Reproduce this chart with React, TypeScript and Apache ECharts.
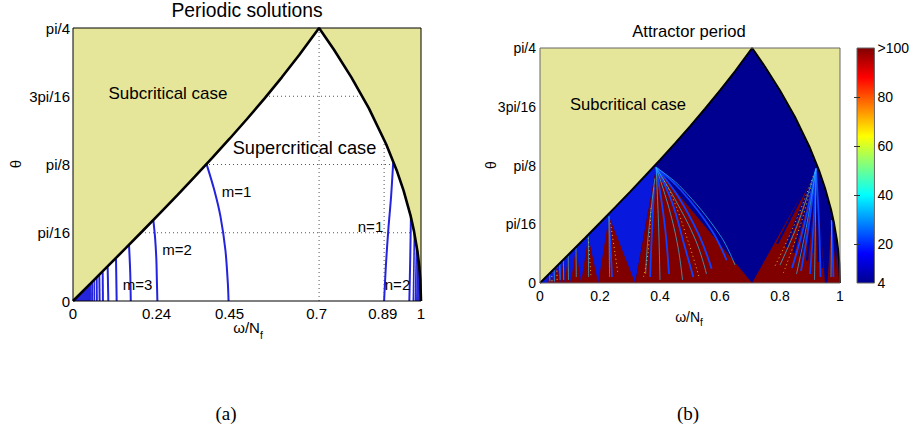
import React, { useEffect, useRef } from 'react';
import * as echarts from 'echarts';

const PI = Math.PI;
const FONT = '"Liberation Sans", Arial, Helvetica, sans-serif';
const SERIF = '"Liberation Serif", "DejaVu Serif", serif';

// ---- tick values / labels ----
const Y_TICK_VALUES = [0, PI / 16, PI / 8, (3 * PI) / 16, PI / 4];
const Y_TICK_LABELS = ['0', 'pi/16', 'pi/8', '3pi/16', 'pi/4'];
const LEFT_X_TICKS = [0, 0.24, 0.45, 0.7, 0.89, 1];
const CB_TICKS = [4, 20, 40, 60, 80, 100];
const CB_LABELS = ['4', '20', '40', '60', '80', '>100'];

// ---- critical boundary ----
const LEFT_BRANCH_X = [0, 0.05, 0.1, 0.15, 0.2, 0.25, 0.3, 0.35, 0.4, 0.45, 0.5, 0.55, 0.6, 0.65, 0.7071];
const LEFT_BRANCH_Y = [0, 0.05, 0.1002, 0.1506, 0.2014, 0.2527, 0.3047, 0.3576, 0.4115, 0.4668, 0.5236, 0.5824, 0.6435, 0.7076, 0.7854];
const RIGHT_BRANCH_X = [0.7071, 0.75, 0.8, 0.85, 0.9, 0.93, 0.95, 0.97, 0.98, 0.99, 0.995, 0.998, 1];
const RIGHT_BRANCH_Y = [0.7854, 0.7227, 0.6435, 0.5548, 0.451, 0.3764, 0.3176, 0.2456, 0.2003, 0.1415, 0.1001, 0.0633, 0];

// ---- dotted grid of panel (a) ----
const GRID_H = [PI / 16, PI / 8, (3 * PI) / 16];
const GRID_V = [0.7071, 0.894];

// ---- periodic-solution curves of panel (a) ----
const CURVE_M1 = [[0.384, 0.393], [0.406, 0.319], [0.424, 0.242], [0.438, 0.146], [0.445, 0.05], [0.447, 0]];
const CURVE_M2 = [[0.231, 0.231], [0.236, 0.18], [0.2395, 0.12], [0.241, 0.06], [0.2425, 0]];
const CURVE_M3 = [[0.161, 0.161], [0.1645, 0.08], [0.166, 0]];
const CURVE_N1 = [[0.92, 0.397], [0.914, 0.3], [0.906, 0.204], [0.899, 0.1], [0.894, 0]];
const CURVE_N2 = [[0.971, 0.238], [0.969, 0.12], [0.9665, 0]];
const MINOR_M_TOP_X = [0.1236, 0.0996, 0.0853, 0.0756, 0.068, 0.061, 0.056, 0.052, 0.048, 0.044, 0.041, 0.038, 0.035, 0.032, 0.029, 0.026, 0.023, 0.02, 0.017, 0.014, 0.011, 0.008, 0.005];
const MINOR_M_TOP_Y = [0.121, 0.097, 0.083, 0.074, 0.067, 0.06, 0.055, 0.051, 0.047, 0.043, 0.04, 0.037, 0.034, 0.031, 0.028, 0.025, 0.022, 0.019, 0.016, 0.013, 0.01, 0.007, 0.004];
const MINOR_M_BOT_X = [0.1255, 0.1015, 0.086, 0.0765, 0.0685, 0.0615, 0.0565, 0.0523, 0.0483, 0.0442, 0.0412, 0.0382, 0.0351, 0.0321, 0.0291, 0.0261, 0.0231, 0.0201, 0.0171, 0.0141, 0.0111, 0.0081, 0.0051];
const DENSE_M_REGION = [[0, 0], [0.052, 0.051], [0.0523, 0]];
const MINOR_N_TOP_X = [0.981, 0.987, 0.991, 0.994, 0.9965, 0.998];
const MINOR_N_TOP_Y = [0.195, 0.161, 0.134, 0.11, 0.084, 0.063];
const MINOR_N_BOT_X = [0.978, 0.984, 0.988, 0.991, 0.994, 0.996];

// ---- attractor period map of panel (b) ----
const MID_BLUE_REGION = [[0, 0], [0.1, 0.1002], [0.2, 0.2014], [0.3, 0.3047], [0.35, 0.3576], [0.387, 0.3974], [0.387, 0.386], [0.317, 0]];
const TRI_FOOT_L = [0.317, 0.194, 0.137, 0.102, 0.082, 0.068, 0.057, 0.048, 0.04, 0.033, 0.027, 0.707, 0.958, 0.985];
const TRI_APEX_X = [0.387, 0.23, 0.161, 0.12, 0.094, 0.078, 0.066, 0.056, 0.047, 0.039, 0.032, 0.92, 0.972, 0.99];
const TRI_APEX_Y = [0.386, 0.223, 0.156, 0.117, 0.092, 0.076, 0.064, 0.054, 0.045, 0.037, 0.03, 0.382, 0.21, 0.12];
const TRI_FOOT_R = [0.707, 0.317, 0.194, 0.137, 0.102, 0.082, 0.068, 0.057, 0.048, 0.04, 0.033, 0.95, 0.99, 0.998];

const STREAKS_DARK = [
  [[0.92, 0.382], [0.79, 0.13]],
  [[0.92, 0.382], [0.82, 0.12]],
  [[0.92, 0.382], [0.845, 0.1]],
  [[0.92, 0.382], [0.868, 0.09]],
  [[0.92, 0.382], [0.89, 0.075]],
  [[0.92, 0.382], [0.907, 0.1]],
  [[0.92, 0.382], [0.928, 0.07]],
  [[0.92, 0.382], [0.941, 0.05]],
];
const STREAKS_BRIGHT = [
  [[0.387, 0.386], [0.44, 0.27], [0.48, 0.13], [0.511, 0.02]],
  [[0.387, 0.386], [0.46, 0.29], [0.53, 0.16], [0.572, 0.048]],
  [[0.387, 0.386], [0.47, 0.31], [0.57, 0.18], [0.622, 0.076]],
  [[0.387, 0.386], [0.415, 0.2], [0.43, 0.03]],
  [[0.38, 0.32], [0.37, 0.1], [0.367, 0.02]],
  [[0.92, 0.382], [0.93, 0.2], [0.935, 0.02]],
  [[0.92, 0.382], [0.912, 0.2], [0.9, 0.03]],
  [[0.92, 0.382], [0.897, 0.2], [0.87, 0.04]],
  [[0.92, 0.382], [0.882, 0.2], [0.84, 0.05]],
  [[0.972, 0.21], [0.978, 0.02]],
  [[0.23, 0.223], [0.236, 0.1], [0.24, 0.02]],
];
const STREAKS_CYAN = [
  [[0.387, 0.386], [0.43, 0.25], [0.46, 0.12], [0.475, 0.01]],
  [[0.387, 0.386], [0.47, 0.32], [0.6, 0.16], [0.65, 0.06]],
  [[0.387, 0.386], [0.395, 0.2], [0.4, 0.01]],
  [[0.387, 0.386], [0.45, 0.28], [0.52, 0.14], [0.555, 0.03]],
  [[0.383, 0.35], [0.36, 0.15], [0.352, 0.03]],
  [[0.92, 0.382], [0.918, 0.2], [0.915, 0.01]],
  [[0.92, 0.382], [0.89, 0.2], [0.855, 0.03]],
  [[0.92, 0.382], [0.86, 0.2], [0.8, 0.06]],
  [[0.972, 0.21], [0.97, 0.02]],
  [[0.23, 0.223], [0.231, 0.1], [0.232, 0.02]],
  [[0.161, 0.156], [0.162, 0.02]],
  [[0.12, 0.117], [0.121, 0.02]],
  [[0.094, 0.092], [0.095, 0.01]],
  [[0.078, 0.076], [0.079, 0.01]],
  [[0.066, 0.064], [0.067, 0.01]],
  [[0.047, 0.045], [0.048, 0.005]],
  [[0.032, 0.03], [0.033, 0.005]],
];
const STREAKS_YELLOW = [
  [[0.387, 0.386], [0.44, 0.29], [0.5, 0.12], [0.53, 0.02]],
  [[0.37, 0.25], [0.36, 0.1], [0.345, 0.02]],
  [[0.92, 0.382], [0.87, 0.2], [0.81, 0.03]],
  [[0.92, 0.382], [0.85, 0.2], [0.78, 0.05]],
  [[0.235, 0.2], [0.25, 0.1], [0.26, 0.03]],
  [[0.161, 0.15], [0.17, 0.02]],
  [[0.056, 0.054], [0.057, 0.005]],
  [[0.039, 0.037], [0.04, 0.005]],
];

const JET = [
  [0, '#00008f'], [0.125, '#0000ff'], [0.375, '#00ffff'], [0.625, '#ffff00'], [0.875, '#ff0000'], [1, '#800000'],
];

const YELLOW = '#e6e69b';
const NAVY = '#000090';
const MID_BLUE = '#0818dc';
const DARK_RED = '#800000';
const LINE_BLUE = '#2424dc';

const zip = (xs: number[], ys: number[]) => xs.map((x, i) => [x, ys[i]]);

function polySeries(g: number, polys: number[][][], color: string, z: number) {
  return {
    type: 'custom',
    xAxisIndex: g,
    yAxisIndex: g,
    z,
    silent: true,
    clip: true,
    data: polys.map(() => [0.5, 0.3]),
    renderItem: (params: any, api: any) => ({
      type: 'polygon',
      shape: { points: polys[params.dataIndex].map((p) => api.coord(p)) },
      style: { fill: color },
    }),
  };
}

function lineSeries(g: number, pts: number[][], color: string, width: number, z: number, extra: any = {}) {
  return {
    type: 'line',
    xAxisIndex: g,
    yAxisIndex: g,
    data: pts,
    symbol: 'none',
    silent: true,
    z,
    lineStyle: { color, width, type: extra.type || 'solid', cap: 'butt', opacity: extra.opacity ?? 1 },
    smooth: extra.smooth || false,
    clip: extra.clip === undefined ? true : extra.clip,
    animation: false,
  };
}

const yLabelFmt = (v: number) => {
  let best = 0;
  Y_TICK_VALUES.forEach((t, i) => {
    if (Math.abs(t - v) < Math.abs(Y_TICK_VALUES[best] - v)) best = i;
  });
  return Y_TICK_LABELS[best];
};

function text(x: number, y: number, t: string, size: number, extra: any = {}) {
  return {
    type: 'text',
    x,
    y,
    z: 100,
    silent: true,
    rotation: extra.rotation || 0,
    style: {
      text: t,
      fontSize: size,
      fontFamily: extra.fontFamily || FONT,
      fill: '#000',
      textAlign: 'center',
      textVerticalAlign: 'middle',
      rich: extra.rich,
    },
  };
}

export default function App() {
  const ref = useRef<HTMLDivElement>(null);

  useEffect(() => {
    if (!ref.current) return;
    const chart = echarts.init(ref.current, undefined, { renderer: 'svg' });

    const leftBranch = zip(LEFT_BRANCH_X, LEFT_BRANCH_Y);
    const rightBranch = zip(RIGHT_BRANCH_X, RIGHT_BRANCH_Y);
    const boundary = [...leftBranch, ...rightBranch.slice(1)];
    const yellowPolys = [
      [...leftBranch, [0, PI / 4]],
      [...rightBranch, [1, PI / 4]],
    ];
    const triangles = TRI_APEX_X.map((ax, i) => [
      [TRI_FOOT_L[i], 0],
      [ax, TRI_APEX_Y[i]],
      [TRI_FOOT_R[i], 0],
    ]);
    const frame = [[0, 0], [1, 0], [1, PI / 4], [0, PI / 4], [0, 0]];

    const series: any[] = [];
    // ---------- panel (a) ----------
    GRID_H.forEach((y) => series.push(lineSeries(0, [[0, y], [1, y]], '#555', 1, 1, { type: [1, 3] })));
    GRID_V.forEach((x) => series.push(lineSeries(0, [[x, 0], [x, PI / 4]], '#555', 1, 1, { type: [1, 3] })));
    series.push(polySeries(0, [DENSE_M_REGION], '#3b3be2', 2));
    [CURVE_M1, CURVE_M2, CURVE_M3, CURVE_N1, CURVE_N2].forEach((c) =>
      series.push(lineSeries(0, c, LINE_BLUE, 2, 2, { smooth: 0.3 }))
    );
    MINOR_M_TOP_X.forEach((x, i) =>
      series.push(lineSeries(0, [[x, MINOR_M_TOP_Y[i]], [MINOR_M_BOT_X[i], 0]], LINE_BLUE, i < 5 ? 2 : 1.4, 2))
    );
    MINOR_N_TOP_X.forEach((x, i) =>
      series.push(lineSeries(0, [[x, MINOR_N_TOP_Y[i]], [MINOR_N_BOT_X[i], 0]], LINE_BLUE, 1.6, 2))
    );
    series.push(polySeries(0, yellowPolys, YELLOW, 3));
    series.push(lineSeries(0, boundary, '#000', 2.6, 4, { clip: false }));
    series.push(lineSeries(0, frame, '#000', 1, 6, { clip: false }));

    // ---------- panel (b) ----------
    series.push(polySeries(1, [boundary], NAVY, 1));
    series.push(polySeries(1, [MID_BLUE_REGION], MID_BLUE, 2));
    series.push(polySeries(1, triangles, DARK_RED, 3));
    STREAKS_DARK.forEach((s) => series.push(lineSeries(1, s, NAVY, 2.2, 4)));
    STREAKS_YELLOW.forEach((s) => series.push(lineSeries(1, s, '#e8b020', 1, 4, { type: [1, 3], smooth: 0.4 })));
    STREAKS_BRIGHT.forEach((s) => series.push(lineSeries(1, s, '#1040ff', 1.8, 5, { smooth: 0.4 })));
    STREAKS_CYAN.forEach((s) => series.push(lineSeries(1, s, '#30c8f0', 0.8, 5, { smooth: 0.4, opacity: 0.85 })));
    series.push(polySeries(1, yellowPolys, YELLOW, 6));
    series.push(lineSeries(1, boundary, '#000', 2, 7, { clip: false }));
    series.push(lineSeries(1, frame, '#666', 1, 8, { clip: false }));

    // ---------- colorbar ----------
    series.push({
      type: 'custom',
      xAxisIndex: 2,
      yAxisIndex: 2,
      silent: true,
      z: 2,
      data: [[0.5, 50]],
      renderItem: (params: any, api: any) => {
        const p0 = api.coord([0, CB_TICKS[0]]);
        const p1 = api.coord([1, CB_TICKS[CB_TICKS.length - 1]]);
        return {
          type: 'rect',
          shape: { x: p0[0], y: p1[1], width: p1[0] - p0[0], height: p0[1] - p1[1] },
          style: {
            fill: new echarts.graphic.LinearGradient(
              0, 1, 0, 0,
              JET.map(([o, c]) => ({ offset: o as number, color: c as string }))
            ),
            stroke: '#666',
            lineWidth: 1,
          },
        };
      },
    });

    const labelStyle = (size: number) => ({ color: '#000', fontSize: size, fontFamily: FONT });

    const option: any = {
      animation: false,
      backgroundColor: '#fff',
      grid: [
        { left: 73, top: 28, width: 348, height: 273 },
        { left: 540, top: 48, width: 300, height: 235 },
        { left: 857, top: 48, width: 21, height: 235 },
      ],
      xAxis: [
        {
          gridIndex: 0, type: 'value', min: 0, max: 1,
          axisLine: { show: false }, axisTick: { show: false, customValues: LEFT_X_TICKS },
          splitLine: { show: false },
          axisLabel: { ...labelStyle(15), margin: 5, customValues: LEFT_X_TICKS },
        },
        {
          gridIndex: 1, type: 'value', min: 0, max: 1, interval: 0.2,
          axisLine: { show: false }, axisTick: { show: false }, splitLine: { show: false },
          axisLabel: { ...labelStyle(14), margin: 6 },
        },
        { gridIndex: 2, type: 'value', min: 0, max: 1, show: false },
      ],
      yAxis: [
        {
          gridIndex: 0, type: 'value', min: 0, max: PI / 4,
          axisLine: { show: false }, axisTick: { show: false, customValues: Y_TICK_VALUES },
          splitLine: { show: false },
          axisLabel: { ...labelStyle(15), margin: 3, customValues: Y_TICK_VALUES, formatter: yLabelFmt },
        },
        {
          gridIndex: 1, type: 'value', min: 0, max: PI / 4,
          axisLine: { show: false }, axisTick: { show: false, customValues: Y_TICK_VALUES },
          splitLine: { show: false },
          axisLabel: { ...labelStyle(14), margin: 4, customValues: Y_TICK_VALUES, formatter: yLabelFmt },
        },
        {
          gridIndex: 2, type: 'value', min: 4, max: 100, position: 'right',
          axisLine: { show: false }, splitLine: { show: false },
          axisTick: { show: true, inside: true, length: 3, customValues: CB_TICKS.slice(1, 5), lineStyle: { color: '#333' } },
          axisLabel: {
            ...labelStyle(14), margin: 3, customValues: CB_TICKS,
            formatter: (v: number) => CB_LABELS[CB_TICKS.indexOf(Math.round(v))] ?? '',
          },
          z: 5,
        },
        {
          gridIndex: 2, type: 'value', min: 4, max: 100, position: 'left',
          axisLine: { show: false }, splitLine: { show: false },
          axisTick: { show: true, inside: true, length: 3, customValues: CB_TICKS.slice(1, 5), lineStyle: { color: '#333' } },
          axisLabel: { show: false },
          z: 5,
        },
      ],
      series,
      graphic: [
        text(247, 10, 'Periodic solutions', 19.3),
        text(689, 31, 'Attractor period', 16.6),
        text(168, 93, 'Subcritical case', 17),
        text(628, 104.5, 'Subcritical case', 16.6),
        text(304.5, 148, 'Supercritical case', 18.2),
        text(236.5, 191, 'm=1', 15),
        text(177, 249, 'm=2', 15),
        text(137.5, 284, 'm=3', 15),
        text(370.5, 226, 'n=1', 15),
        text(397.5, 284, 'n=2', 15),
        text(15, 164, 'θ', 15, { rotation: PI / 2 }),
        text(491, 165, 'θ', 14, { rotation: PI / 2 }),
        text(248, 328, '{a|ω/N}{b|f}', 15, {
          rich: {
            a: { fontSize: 15, fontFamily: FONT, lineHeight: 16, verticalAlign: 'top' },
            b: { fontSize: 10.5, fontFamily: FONT, lineHeight: 10, padding: [9, 0, 0, 0], verticalAlign: 'top' },
          },
        }),
        text(689, 317, '{a|ω/N}{b|f}', 14, {
          rich: {
            a: { fontSize: 14, fontFamily: FONT, lineHeight: 15, verticalAlign: 'top' },
            b: { fontSize: 10, fontFamily: FONT, lineHeight: 10, padding: [8, 0, 0, 0], verticalAlign: 'top' },
          },
        }),
        text(226, 413, '(a)', 19, { fontFamily: SERIF }),
        text(688, 413, '(b)', 19, { fontFamily: SERIF }),
      ],
    };

    chart.setOption(option);
    return () => chart.dispose();
  }, []);

  return (
    <div
      ref={ref}
      style={{ position: 'fixed', left: 0, top: 0, width: 912, height: 443, background: '#fff' }}
    />
  );
}
